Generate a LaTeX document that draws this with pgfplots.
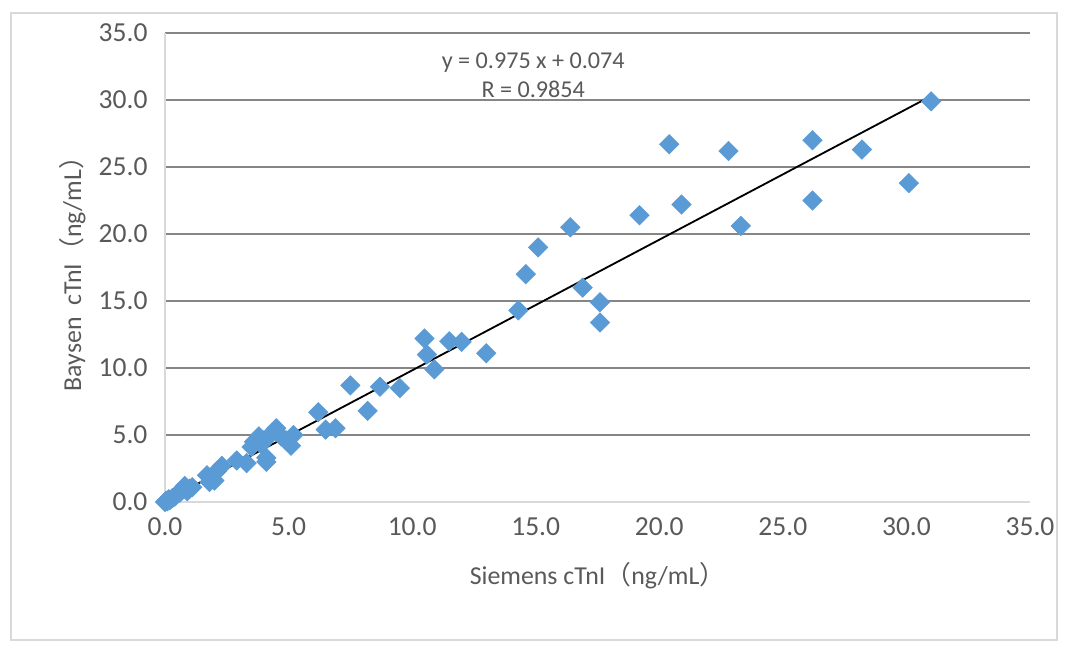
\documentclass[border=0pt]{standalone}
\usepackage{pgfplots}
\pgfplotsset{compat=1.18}
\usepackage{fontspec}
\setmainfont{Carlito}
\newfontfamily\cjk{Noto Sans CJK SC}
\definecolor{ptblue}{HTML}{5B9BD5}
\definecolor{txtgray}{HTML}{595959}
\definecolor{gridgray}{HTML}{868686}
\definecolor{axgray}{HTML}{D9D9D9}
\begin{document}
\begin{tikzpicture}
\path[use as bounding box] (-99pt,-90pt) rectangle (550.8pt,301.2pt);
\draw[axgray, line width=1.2pt] (-92.4pt,-82.8pt) rectangle (535.2pt,293.4pt);
\begin{axis}[
  at={(0pt,0pt)}, anchor=origin,
  scale only axis, width=519pt, height=281.4pt,
  xmin=0, xmax=35, ymin=0, ymax=35,
  xtick={0,5,...,35}, ytick={0,5,...,35},
  /pgf/number format/.cd, fixed, fixed zerofill, precision=1, assume math mode=true,
  /pgfplots/.cd,
  tick label style={font=\fontsize{16.5}{19}\selectfont, text=txtgray},
  major tick length=0pt,
  axis x line*=bottom, axis y line*=left,
  axis line style={axgray, line width=1.2pt, -},
  ymajorgrids, major grid style={gridgray, line width=1pt},
  xticklabel style={yshift=-6pt},
  yticklabel style={xshift=-7pt},
  xlabel={Siemens cTnI{\cjk（}ng/mL{\cjk）}},
  ylabel={Baysen\ \ cTnI{\cjk（}ng/mL{\cjk）}},
  label style={font=\fontsize{15.5}{18}\selectfont, text=txtgray},
  xlabel style={yshift=-9pt},
  ylabel style={yshift=1pt},
  clip=false,
]
\addplot[only marks, mark=square*, mark size=4.1pt, mark options={rotate=45, fill=ptblue, draw=ptblue}] coordinates {
(0.0,0.0) (0.05,0.1) (0.1,0.05) (0.15,0.2) (0.2,0.15) (0.3,0.3) (0.4,0.4)
(0.5,0.6) (0.6,0.7) (0.7,0.9) (0.8,1.2) (0.9,0.8) (1.0,1.0) (1.1,1.1)
(1.7,2.0) (1.8,1.5) (2.0,1.6) (2.1,2.3) (2.3,2.7) (2.9,3.1) (3.3,2.9)
(3.5,4.1) (3.6,4.5) (3.8,4.9) (4.0,4.6) (4.1,3.3) (4.1,3.0) (4.3,5.1)
(4.5,5.5) (4.7,4.9) (4.9,4.6) (5.1,4.2) (5.2,5.0) (3.9,4.3)
(6.2,6.7) (6.5,5.4) (6.9,5.5) (7.5,8.7) (8.2,6.8) (8.7,8.6) (9.5,8.5)
(10.5,12.2) (10.6,11.0) (10.9,9.9) (11.5,12.0) (12.0,11.95) (13.0,11.1)
(14.3,14.3) (14.6,17.0) (15.1,19.0) (16.4,20.5) (16.9,16.0) (17.6,14.9) (17.6,13.4)
(19.2,21.4) (20.4,26.7) (20.9,22.2) (22.8,26.2) (23.3,20.6) (26.2,27.0) (26.2,22.5)
(28.2,26.3) (30.1,23.8) (31.0,29.9)
};
\addplot[black, line width=1.1pt] coordinates {(0,0.074) (30.96,30.26)};
\node[align=center, font=\fontsize{14.5}{17}\selectfont, text=txtgray] at (axis cs:14.9,31.85) {y = 0.975 x + 0.074\\R = 0.9854};
\end{axis}
\end{tikzpicture}
\end{document}
